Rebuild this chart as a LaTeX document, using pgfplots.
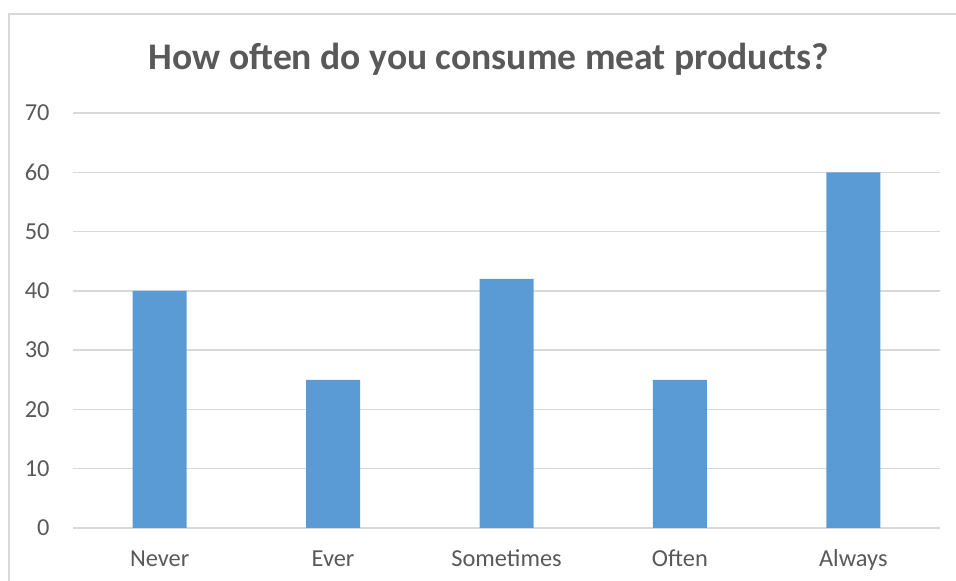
\documentclass[border=0pt]{standalone}
\usepackage{fontspec}
\setmainfont{Carlito}
\usepackage{pgfplots}
\pgfplotsset{compat=1.18}
\definecolor{txt}{HTML}{595959}
\definecolor{grd}{HTML}{D9D9D9}
\definecolor{bar}{HTML}{5B9BD5}
\begin{document}
\begin{tikzpicture}[x=0.5pt,y=0.5pt]
\path[use as bounding box] (0,0) rectangle (956,581);
\draw[grd, line width=1pt] (9,-5) -- (9,567) -- (962,567);
\node[anchor=base, text=txt, font=\fontsize{18.8}{22}\selectfont\bfseries, inner sep=0] at (489,511) {How often do you consume meat products?};
\begin{axis}[
  at={(73*0.5pt,53*0.5pt)}, anchor=south west,
  scale only axis, width=433.5pt, height=207.5pt,
  xmin=-0.5, xmax=4.5, ymin=0, ymax=70,
  ytick={0,10,...,70},
  xtick={0,1,2,3,4},
  xticklabels={Never,Ever,Sometimes,Often,Always},
  axis line style={draw=none},
  major tick length=0pt,
  ymajorgrids, grid style={grd, line width=0.75pt},
  tick label style={text=txt, font=\fontsize{12.2}{14}\selectfont},
  /pgf/number format/assume math mode=true,
  yticklabel style={anchor=east, inner sep=0pt, xshift=-11.5pt},
  xticklabel style={anchor=base, inner sep=0pt, yshift=-19.5pt},
  clip=false,
]
\addplot[ybar, bar width=27pt, fill=bar, draw=none] coordinates {(0,40) (1,25) (2,42) (3,25) (4,60)};
\end{axis}
\end{tikzpicture}
\end{document}
